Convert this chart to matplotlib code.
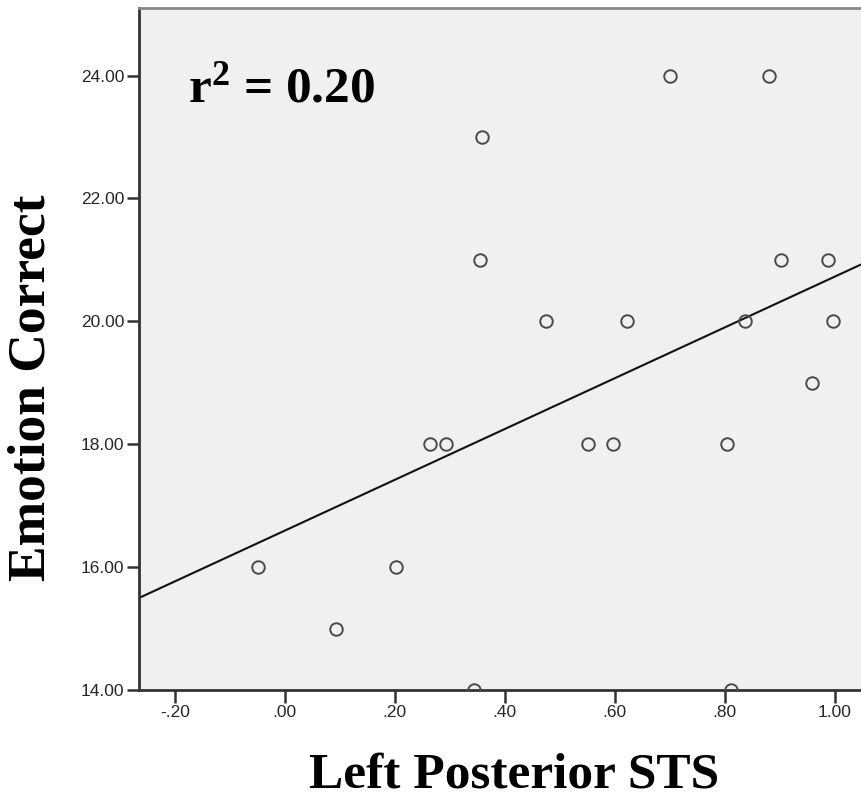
import matplotlib

matplotlib.use("Agg")

import matplotlib.pyplot as plt
import numpy as np


BG = "#F0F0F0"
DARK = "#262626"
MARK = "#4A4A4A"

# values
sts = [-0.049, 0.093, 0.202, 0.264, 0.293, 0.344, 0.355, 0.359, 0.476, 0.551,
       0.597, 0.622, 0.700, 0.804, 0.811, 0.837, 0.880, 0.903, 0.959, 0.988, 0.998]
emotion = [16, 15, 16, 18, 18, 14, 21, 23, 20, 18,
           18, 20, 24, 18, 14, 20, 24, 21, 19, 21, 20]
x_ticks = [-0.2, 0.0, 0.2, 0.4, 0.6, 0.8, 1.0]
y_ticks = [14, 16, 18, 20, 22, 24]
r2_label = r"r$^{\mathbf{2}}$ = 0.20"

plt.rcParams.update(
    {
        "font.family": "Liberation Sans",
        "font.size": 10,
        "xtick.color": DARK,
        "ytick.color": DARK,
        "mathtext.fontset": "custom",
        "mathtext.rm": "Liberation Serif:bold",
        "mathtext.bf": "Liberation Serif:bold",
        "mathtext.it": "Liberation Serif:bold",
    }
)


def fmt_x(v):
    s = f"{v:.2f}"
    return s.replace("0.", ".", 1) if abs(v) < 1 else s


def main():
    fig = plt.figure(figsize=(8.62, 7.99), dpi=100)
    ax = fig.add_axes([139 / 862, 1 - 690 / 799, 1 - 139 / 862, (690 - 8) / 799])
    ax.set_facecolor(BG)

    x = np.array(sts)
    y = np.array(emotion)
    slope, icpt = np.polyfit(x, y, 1)
    xlim = (-0.265, 1.05)
    xx = np.array(xlim)
    ax.plot(xx, slope * xx + icpt, color="#111111", linewidth=1.5, zorder=2)
    ax.plot(x, y, linestyle="none", marker="o", markersize=9, markerfacecolor="none",
            markeredgecolor=MARK, markeredgewidth=1.4, zorder=3)

    ax.set_xlim(*xlim)
    ax.set_ylim(14, 25.1)
    ax.set_xticks(x_ticks, [fmt_x(v) for v in x_ticks])
    ax.set_yticks(y_ticks, [f"{v:.2f}" for v in y_ticks])
    ax.tick_params(length=9, width=1.8, color="#333333", direction="out", pad=1.5, labelsize=12.5)

    for side in ("left", "bottom"):
        ax.spines[side].set_color("#333333")
        ax.spines[side].set_linewidth(2)
    ax.spines["top"].set_color("#888888")
    ax.spines["top"].set_linewidth(2)
    ax.spines["right"].set_visible(False)

    fig.text(188 / 862, 1 - 102 / 799, r2_label, family="Liberation Serif", weight="bold",
             fontsize=37, ha="left", va="baseline")
    fig.text(514 / 862, 1 - 775 / 799, "Left Posterior STS", family="Liberation Serif",
             weight="bold", fontsize=37, ha="center", va="center")
    fig.text(32 / 862, 1 - 388 / 799, "Emotion Correct", family="Liberation Serif",
             weight="bold", fontsize=38.5, ha="center", va="center", rotation=90)

    fig.savefig("out.png", dpi=100, facecolor="white")
    plt.close(fig)


if __name__ == "__main__":
    main()
